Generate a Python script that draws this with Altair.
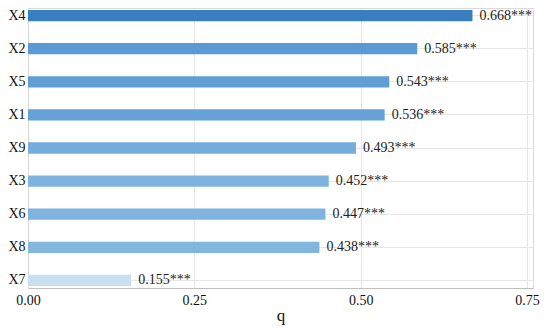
import altair as alt
import pandas as pd

variables = ["X4", "X2", "X5", "X1", "X9", "X3", "X6", "X8", "X7"]
q_values = [0.668, 0.585, 0.543, 0.536, 0.493, 0.452, 0.447, 0.438, 0.155]
signif = ["***"] * 9
bar_colors = ["#3A7DC0", "#5A9AD5", "#609FD6", "#64A2D7", "#74ADDB",
              "#7DB3DE", "#7FB4DE", "#82B6DF", "#C9DEF1"]
x_ticks = [0.0, 0.25, 0.5, 0.75]

df = pd.DataFrame({
    "var": variables,
    "q": q_values,
    "label": [f"{v:.3f}{s}" for v, s in zip(q_values, signif)],
})

FONT = "Liberation Serif"

y_enc = alt.Y("var:N", sort=variables,
              scale=alt.Scale(paddingInner=0.66, paddingOuter=0.06),
              axis=alt.Axis(title=None, bandPosition=0.5, ticks=False,
                            labelFont=FONT, labelFontSize=14, labelColor="#111",
                            labelPadding=3, domainColor="#D9D9D9",
                            gridColor="#E6E6E6", grid=True))

x_enc = alt.X("q:Q",
              scale=alt.Scale(domain=[0, 0.759], nice=False),
              axis=alt.Axis(title="q", values=x_ticks, format=".2f",
                            ticks=False, labelFont=FONT, labelFontSize=14,
                            labelColor="#111", labelPadding=5,
                            titleFont=FONT, titleFontSize=17,
                            titleFontWeight="normal", titleColor="#111",
                            titlePadding=0, domainColor="#BFBFBF",
                            gridColor="#E6E6E6", labelFlush=False))

bars = alt.Chart(df).mark_bar().encode(
    y=y_enc,
    x=x_enc,
    color=alt.Color("var:N", scale=alt.Scale(domain=variables, range=bar_colors),
                    legend=None),
)

text = alt.Chart(df).mark_text(align="left", baseline="middle", dx=7,
                               font=FONT, fontSize=14, color="#222").encode(
    y=alt.Y("var:N", sort=variables),
    x="q:Q",
    text="label:N",
)

chart = (bars + text).properties(
    width=505, height=280,
    autosize=alt.AutoSizeParams(type="none"),
    padding={"left": 20, "top": 0, "right": 9, "bottom": 38},
).configure_view(stroke="#D9D9D9")

chart.save("out.html", embed_options={"renderer": "svg", "actions": False})
